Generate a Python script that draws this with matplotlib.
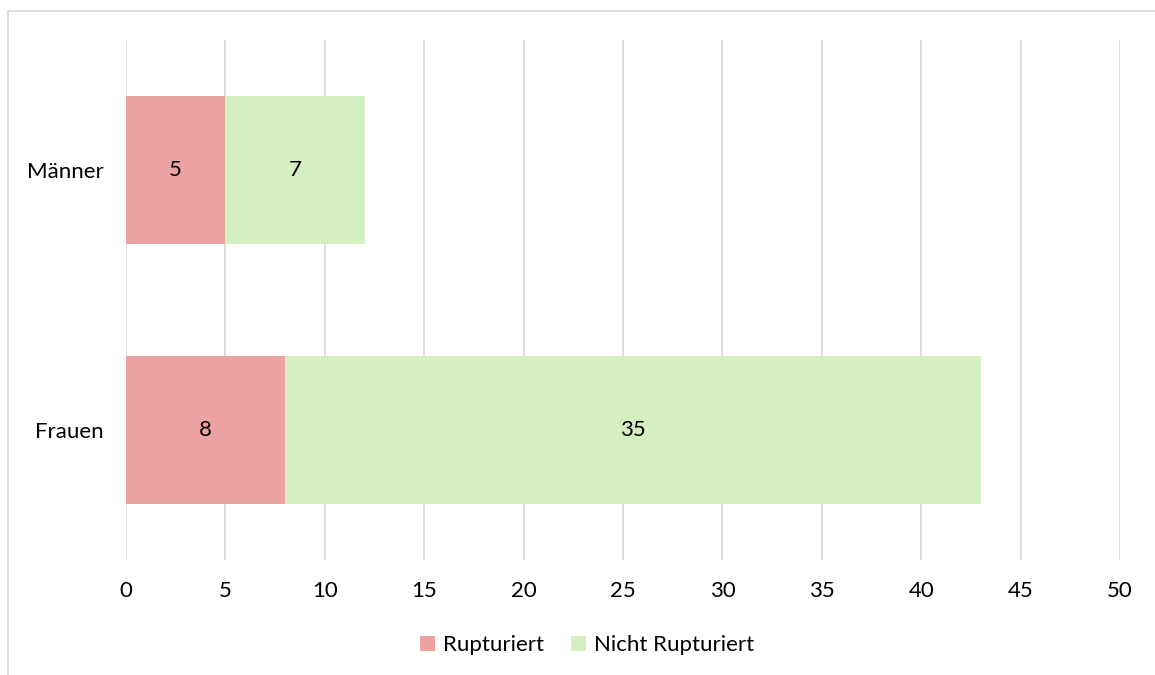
import matplotlib
matplotlib.use("Agg")
import matplotlib.pyplot as plt
from matplotlib.patches import Rectangle

categories = ["Frauen", "Männer"]
rupturiert = [8, 5]
nicht_rupturiert = [35, 7]
series_names = ["Rupturiert", "Nicht Rupturiert"]
colors = ["#EBA2A1", "#D4EFC0"]

plt.rcParams['font.family'] = ['Lato', 'DejaVu Sans']
fs = 16

fig = plt.figure(figsize=(11.55, 6.75), dpi=100)
ax = fig.add_axes([0.1091, 0.1704, 0.8606, 0.7703])

ypos = list(range(len(categories)))
b1 = ax.barh(ypos, rupturiert, height=0.57, color=colors[0], label=series_names[0], zorder=2)
b2 = ax.barh(ypos, nicht_rupturiert, left=rupturiert, height=0.57, color=colors[1],
             label=series_names[1], zorder=2)

for bars, vals in ((b1, rupturiert), (b2, nicht_rupturiert)):
    ax.bar_label(bars, labels=[str(v) for v in vals], label_type="center",
                 fontsize=fs, color="black")

ax.set_xlim(0, 50)
ax.set_ylim(-0.5, 1.5)
ax.set_xticks(range(0, 51, 5))
ax.set_yticks(ypos)
ax.set_yticklabels(categories)
ax.tick_params(axis="both", length=0, labelsize=fs, colors="black")
ax.tick_params(axis="x", pad=15)
ax.tick_params(axis="y", pad=16)
ax.xaxis.grid(True, color="#D9D9D9", linewidth=1.3, zorder=0)
ax.set_axisbelow(True)
for s in ax.spines.values():
    s.set_visible(False)

leg = fig.legend(handles=[b1, b2], loc="center", bbox_to_anchor=(0.508, 0.044), ncol=2,
                 frameon=False, fontsize=fs, handlelength=0.7, handleheight=0.7,
                 handletextpad=0.35, columnspacing=1.2)

# chart area border (top and left visible)
fig.add_artist(Rectangle((8 / 1155, -0.1), 1.2, 1 - 11 / 675 + 0.1,
                         transform=fig.transFigure, fill=False,
                         edgecolor="#D9D9D9", linewidth=1.2))

fig.savefig("out.png", dpi=100)
